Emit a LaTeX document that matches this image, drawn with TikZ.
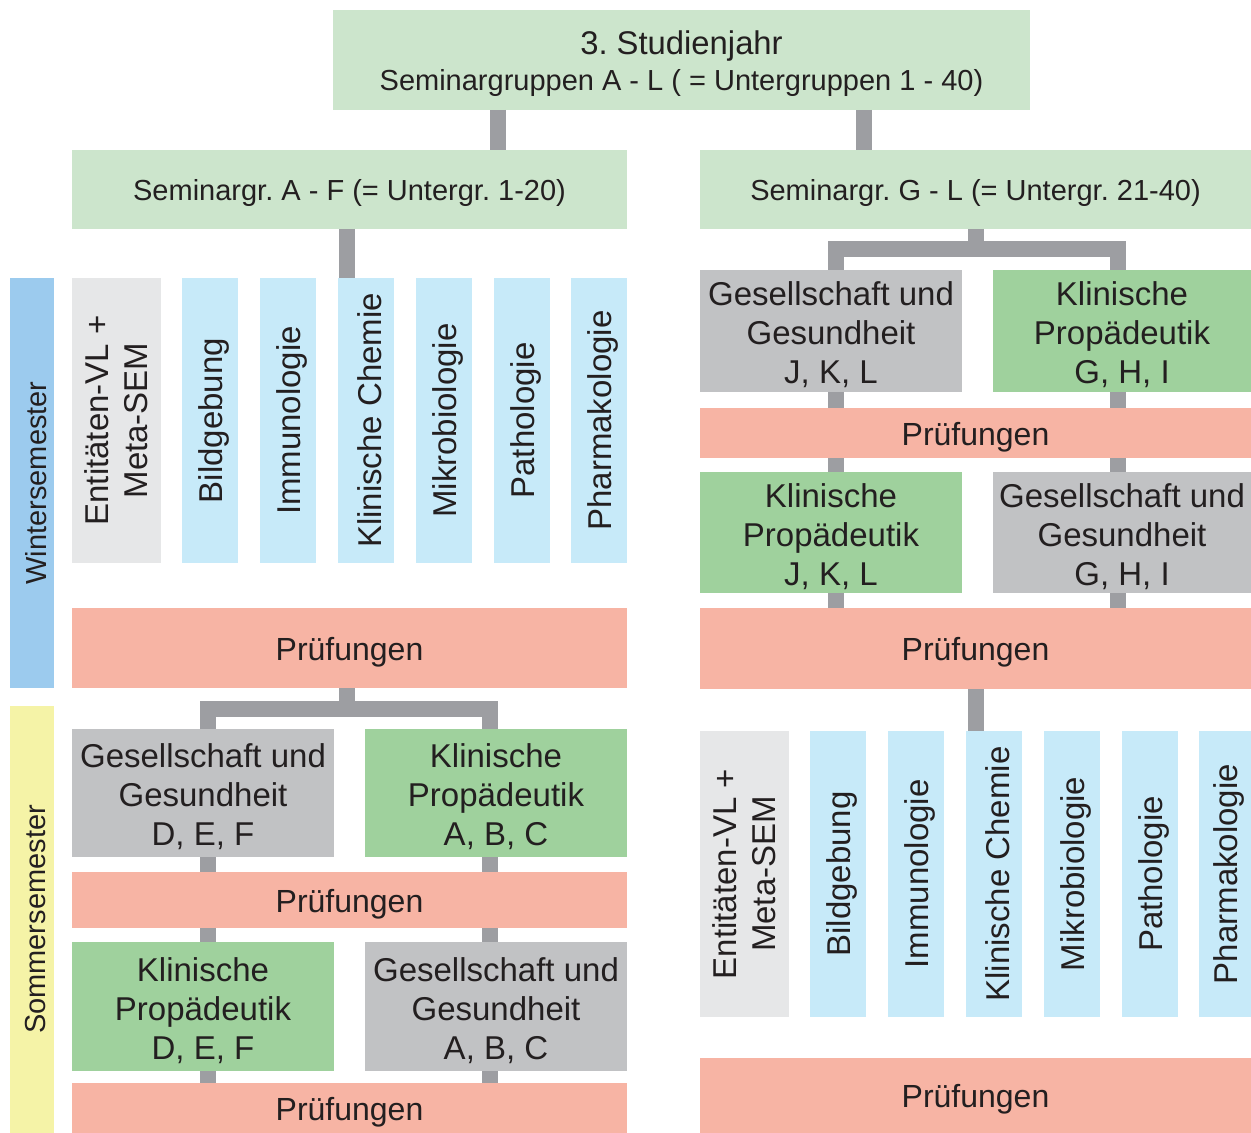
\documentclass[tikz,border=0pt]{standalone}
\usepackage{fontspec}
\setmainfont{Liberation Sans}
\usetikzlibrary{fit,calc}

\definecolor{txt}{HTML}{231F20}
\definecolor{kopf}{HTML}{CCE5CC}
\definecolor{verb}{HTML}{9D9EA2}
\definecolor{winter}{HTML}{9CCBEE}
\definecolor{sommer}{HTML}{F5F3A7}
\definecolor{fach}{HTML}{C7EAF9}
\definecolor{hell}{HTML}{E6E7E8}
\definecolor{pruef}{HTML}{F7B4A4}
\definecolor{gesell}{HTML}{C1C2C4}
\definecolor{klin}{HTML}{9FD19D}

\begin{document}
\frenchspacing
\begin{tikzpicture}[x=0.5pt, y=-0.5pt,
    box/.style={fill=#1, inner sep=0pt, outer sep=0pt},
    every label/.style={text=txt, align=center, inner sep=0pt, yshift=-2pt,
                        font=\fontsize{16.5}{19.5}\selectfont},
    rot/.style={yshift=2pt, xshift=2pt},
    klein/.style={font=\fontsize{14.5}{17}\selectfont},
    pr/.style={font=\fontsize{16}{19}\selectfont},
    conn/.style={draw=verb, line width=8pt}]
  \useasboundingbox (0,0) rectangle (1251,1133);

  % Kopf
  \node[box=kopf, fit={(333,10) (1030,110)},
        label={[font=\fontsize{16.4}{18}\selectfont]center:{3. Studienjahr\\{\fontsize{14.5}{17}\selectfont Seminargruppen A - L ( = Untergruppen 1 - 40)}}}] (jahr) {};
  \node[box=kopf, fit={(72,150) (627,229)}, label={[klein]center:Seminargr. A - F (= Untergr. 1-20)}] (semAF) {};
  \node[box=kopf, fit={(700,150) (1251,229)}, label={[klein]center:Seminargr. G - L (= Untergr. 21-40)}] (semGL) {};

  % Semester
  \node[box=winter, fit={(10,278) (54,688)}, label={[klein,rot]center:\rotatebox{90}{Wintersemester}}] (ws) {};
  \node[box=sommer, fit={(10,706) (54,1133)}, label={[klein,rot]center:\rotatebox{90}{Sommersemester}}] (ss) {};

  % links oben: Faecher
  \node[box=hell, fit={(72,278) (161,563)},
        label={[rot]center:\rotatebox{90}{\begin{tabular}{@{}c@{}}Entitäten-VL +\\Meta-SEM\end{tabular}}}] (ent1) {};
  \node[box=fach, fit={(182,278) (238,563)}, label={[rot]center:\rotatebox{90}{Bildgebung}}] (bild1) {};
  \node[box=fach, fit={(260,278) (316,563)}, label={[rot]center:\rotatebox{90}{Immunologie}}] (imm1) {};
  \node[box=fach, fit={(338,278) (394,563)}, label={[rot]center:\rotatebox{90}{Klinische Chemie}}] (kch1) {};
  \node[box=fach, fit={(416,278) (472,563)}, label={[rot]center:\rotatebox{90}{Mikrobiologie}}] (mik1) {};
  \node[box=fach, fit={(494,278) (550,563)}, label={[rot]center:\rotatebox{90}{Pathologie}}] (path1) {};
  \node[box=fach, fit={(571,278) (627,563)}, label={[rot]center:\rotatebox{90}{Pharmakologie}}] (pha1) {};
  \node[box=pruef, fit={(72,608) (627,688)}, label={[pr]center:Prüfungen}] (pr1) {};

  % links unten
  \node[box=gesell, fit={(72,729) (334,857)}, label={center:{Gesellschaft und\\Gesundheit\\D, E, F}}] (ges1) {};
  \node[box=klin, fit={(365,729) (627,857)}, label={center:{Klinische\\Propädeutik\\A, B, C}}] (kp1) {};
  \node[box=pruef, fit={(72,872) (627,928)}, label={[pr]center:Prüfungen}] (pr2) {};
  \node[box=klin, fit={(72,942) (334,1071)}, label={center:{Klinische\\Propädeutik\\D, E, F}}] (kp2) {};
  \node[box=gesell, fit={(365,942) (627,1071)}, label={center:{Gesellschaft und\\Gesundheit\\A, B, C}}] (ges2) {};
  \node[box=pruef, fit={(72,1083) (627,1133)}, label={[pr]center:Prüfungen}] (pr3) {};

  % rechts oben
  \node[box=gesell, fit={(700,270) (962,392)}, label={center:{Gesellschaft und\\Gesundheit\\J, K, L}}] (ges3) {};
  \node[box=klin, fit={(993,270) (1251,392)}, label={center:{Klinische\\Propädeutik\\G, H, I}}] (kp3) {};
  \node[box=pruef, fit={(700,408) (1251,458)}, label={[pr]center:Prüfungen}] (pr4) {};
  \node[box=klin, fit={(700,472) (962,593)}, label={center:{Klinische\\Propädeutik\\J, K, L}}] (kp4) {};
  \node[box=gesell, fit={(993,472) (1251,593)}, label={center:{Gesellschaft und\\Gesundheit\\G, H, I}}] (ges4) {};
  \node[box=pruef, fit={(700,608) (1251,689)}, label={[pr]center:Prüfungen}] (pr5) {};

  % rechts unten: Faecher
  \node[box=hell, fit={(700,731) (789,1017)},
        label={[rot]center:\rotatebox{90}{\begin{tabular}{@{}c@{}}Entitäten-VL +\\Meta-SEM\end{tabular}}}] (ent2) {};
  \node[box=fach, fit={(810,731) (866,1017)}, label={[rot]center:\rotatebox{90}{Bildgebung}}] (bild2) {};
  \node[box=fach, fit={(888,731) (944,1017)}, label={[rot]center:\rotatebox{90}{Immunologie}}] (imm2) {};
  \node[box=fach, fit={(966,731) (1022,1017)}, label={[rot]center:\rotatebox{90}{Klinische Chemie}}] (kch2) {};
  \node[box=fach, fit={(1044,731) (1100,1017)}, label={[rot]center:\rotatebox{90}{Mikrobiologie}}] (mik2) {};
  \node[box=fach, fit={(1122,731) (1178,1017)}, label={[rot]center:\rotatebox{90}{Pathologie}}] (path2) {};
  \node[box=fach, fit={(1199,731) (1251,1017)}, label={[rot]center:\rotatebox{90}{Pharmakologie}}] (pha2) {};
  \node[box=pruef, fit={(700,1058) (1251,1133)}, label={[pr]center:Prüfungen}] (pr6) {};

  % Verbindungen
  \coordinate (ta) at (498,0);  \coordinate (tb) at (864,0);
  \coordinate (ml) at (347,0);  \coordinate (mr) at (976,0);
  \coordinate (la) at (208,0);  \coordinate (lb) at (490,0);
  \coordinate (ra) at (836,0);  \coordinate (rb) at (1118,0);
  \coordinate (gl) at (347,708.5);  \coordinate (gr) at (976,249.5);

  \draw[conn] (jahr.south -| ta) -- (semAF.north -| ta);
  \draw[conn] (jahr.south -| tb) -- (semGL.north -| tb);
  \draw[conn] (semAF.south -| ml) -- (kch1.north -| ml);

  \draw[conn] (pr1.south -| ml) -- (gl);
  \draw[conn] (ges1.north -| la) |- (gl) -| (kp1.north -| lb);
  \draw[conn] (ges1.south -| la) -- (pr2.north -| la);
  \draw[conn] (kp1.south -| lb) -- (pr2.north -| lb);
  \draw[conn] (pr2.south -| la) -- (kp2.north -| la);
  \draw[conn] (pr2.south -| lb) -- (ges2.north -| lb);
  \draw[conn] (kp2.south -| la) -- (pr3.north -| la);
  \draw[conn] (ges2.south -| lb) -- (pr3.north -| lb);

  \draw[conn] (semGL.south -| mr) -- (gr);
  \draw[conn] (ges3.north -| ra) |- (gr) -| (kp3.north -| rb);
  \draw[conn] (ges3.south -| ra) -- (pr4.north -| ra);
  \draw[conn] (kp3.south -| rb) -- (pr4.north -| rb);
  \draw[conn] (pr4.south -| ra) -- (kp4.north -| ra);
  \draw[conn] (pr4.south -| rb) -- (ges4.north -| rb);
  \draw[conn] (kp4.south -| ra) -- (pr5.north -| ra);
  \draw[conn] (ges4.south -| rb) -- (pr5.north -| rb);
  \draw[conn] (pr5.south -| mr) -- (kch2.north -| mr);
\end{tikzpicture}
\end{document}
